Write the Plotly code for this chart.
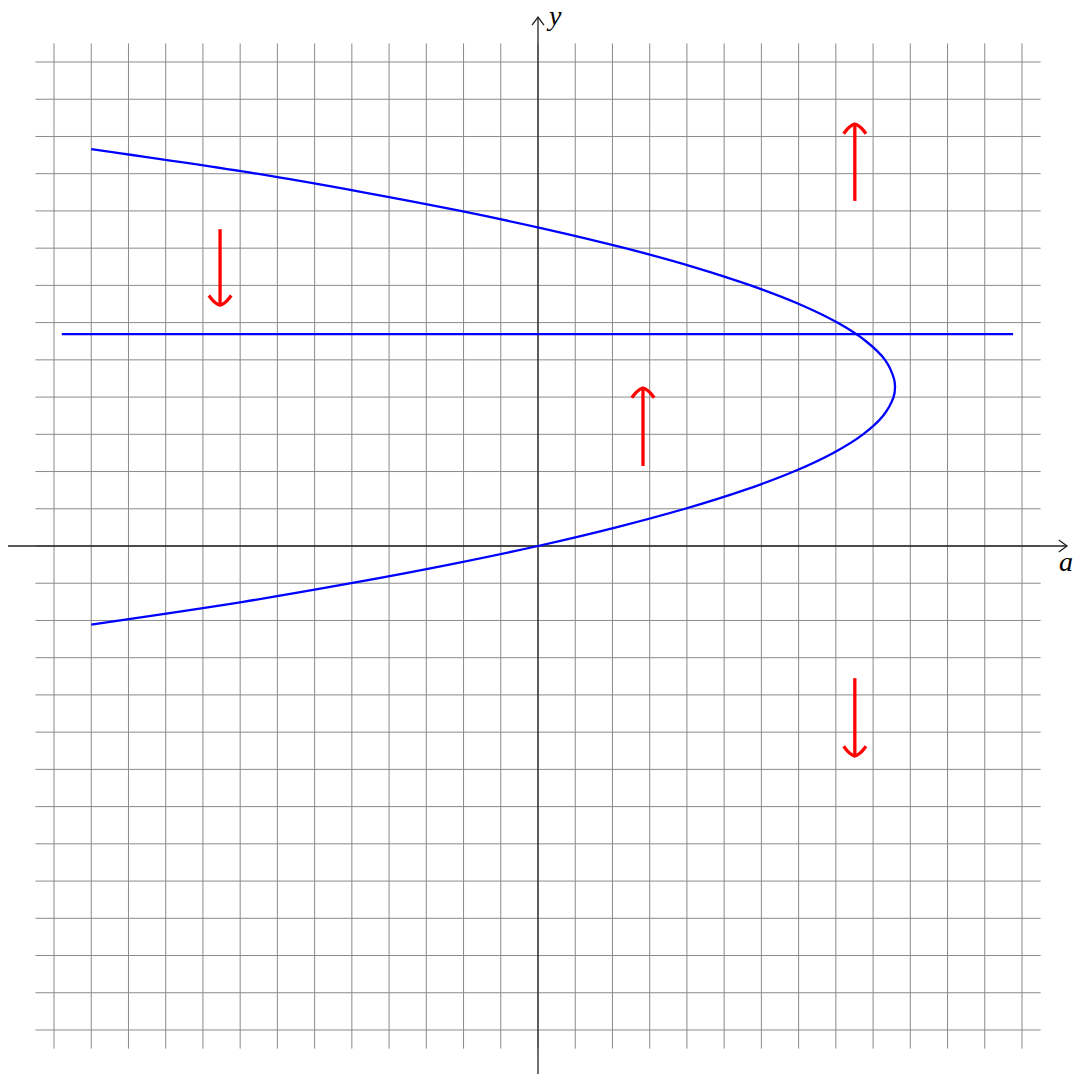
import plotly.graph_objects as go

# ---- data ----
curve_y = [10.66, 10.0, 9.5, 9.0, 8.5, 8.0, 7.5, 7.0, 6.5, 6.0, 5.5, 5.0, 4.5, 4.28,
           4.0, 3.5, 3.0, 2.5, 2.0, 1.5, 1.0, 0.5, 0.0, -0.5, -1.0, -1.5, -2.11]
curve_a = [-12.0, -7.55, -4.69, -2.08, 0.26, 2.34, 4.16, 5.71, 7.01, 8.04, 8.81, 9.32, 9.56, 9.59,
           9.55, 9.27, 8.73, 7.93, 6.87, 5.54, 3.95, 2.10, 0.0, -2.38, -5.02, -7.92, -12.0]

hline_y = 5.69
hline_a = [-12.79, 12.76]

arrow_a = [-8.54, 2.82, 8.51, 8.51]
arrow_from = [8.51, 2.15, 9.27, -3.55]
arrow_to = [6.47, 4.24, 11.33, -5.64]

grid_vals = list(range(-13, 14))
grid_ext = 13.5

x_label = "a"
y_label = "y"

# ---- geometry ----
W, H = 1075, 1074
unit = 37.23
ox, oy = 538, 546
xr = [-ox / unit, (W - ox) / unit]
yr = [-(H - oy) / unit, oy / unit]

fig = go.Figure()

# grid
gx, gy = [], []
for v in grid_vals:
    gx += [v, v, None]
    gy += [-grid_ext, grid_ext, None]
    gx += [-grid_ext, grid_ext, None]
    gy += [v, v, None]
fig.add_trace(go.Scatter(x=gx, y=gy, mode="lines", line=dict(color="#8a8a8a", width=1),
                         hoverinfo="skip", showlegend=False))

# axes with open arrow heads
x_lo, x_hi = (8 - ox) / unit, (1067 - ox) / unit
y_lo, y_hi = -(H - oy) / unit - 0.1, (oy - 17) / unit
hs, hw = 0.22, 0.16
ax_x = [x_lo, x_hi, None, x_hi - hs, x_hi, x_hi - hs, None, 0, 0, None, -hw, 0, hw]
ax_y = [0, 0, None, hw, 0, -hw, None, y_lo, y_hi, None, y_hi - hs, y_hi, y_hi - hs]
fig.add_trace(go.Scatter(x=ax_x, y=ax_y, mode="lines", line=dict(color="#222222", width=1.3),
                         hoverinfo="skip", showlegend=False))

# blue curves
fig.add_trace(go.Scatter(x=curve_a, y=curve_y, mode="lines", line=dict(color="#0000ff", width=2.3, shape="spline"),
                         showlegend=False))
fig.add_trace(go.Scatter(x=hline_a, y=[hline_y, hline_y], mode="lines", line=dict(color="#0000ff", width=2.3),
                         showlegend=False))

# red arrows
rx, ry = [], []
hb, hwid = 0.26, 0.30
for a, y0, y1 in zip(arrow_a, arrow_from, arrow_to):
    d = 1 if y1 > y0 else -1
    rx += [a, a, None, a - hwid, a - 0.55 * hwid, a, a + 0.55 * hwid, a + hwid, None]
    ry += [y0, y1, None, y1 - d * hb, y1 - d * hb * 0.38, y1, y1 - d * hb * 0.38, y1 - d * hb, None]
fig.add_trace(go.Scatter(x=rx, y=ry, mode="lines", line=dict(color="#ff0000", width=3.3, shape="spline", smoothing=0.8),
                         hoverinfo="skip", showlegend=False))

# axis labels
fig.add_annotation(x=(1066 - ox) / unit, y=-(561 - oy) / unit, text=x_label, showarrow=False,
                   font=dict(family="Liberation Serif", size=28, color="black"))
fig.add_annotation(x=(554 - ox) / unit, y=(oy - 15) / unit, text=y_label, showarrow=False,
                   font=dict(family="Liberation Serif", size=28, color="black"))

fig.update_layout(
    width=W, height=H, margin=dict(l=0, r=0, t=0, b=0),
    plot_bgcolor="white", paper_bgcolor="white",
    xaxis=dict(range=xr, visible=False, fixedrange=True),
    yaxis=dict(range=yr, visible=False, fixedrange=True),
)
fig.update_annotations(font_style="italic")

fig.write_html("out.html", config={"displayModeBar": False},
               post_script="document.body.style.margin='0';document.body.style.overflow='hidden';")
